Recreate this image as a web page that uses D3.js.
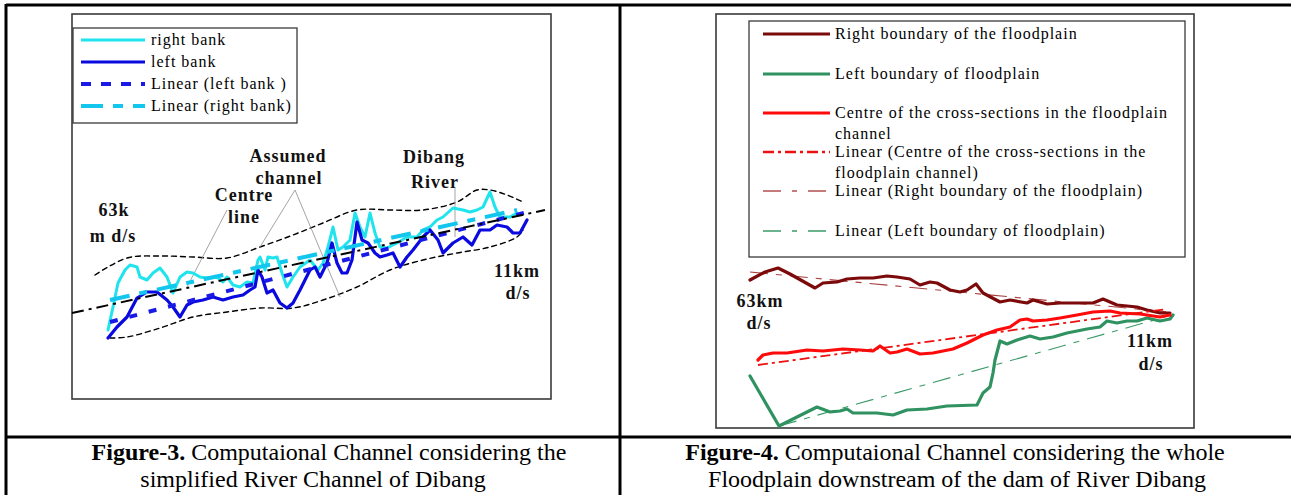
<!DOCTYPE html>
<meta charset="utf-8">
<style>
  body { margin: 0; background: #fff; }
  svg { display: block; font-family: "Liberation Serif", "Times New Roman", serif; }
  .frame { fill: none; stroke: #3a3a3a; stroke-width: 1.6; }
  .legend-box { fill: #fff; stroke: #3a3a3a; stroke-width: 1.3; }
  .legend text { font-size: 16px; letter-spacing: 1px; fill: #000; }
  .lbl { font-size: 18px; font-weight: bold; letter-spacing: 1px; text-anchor: middle; fill: #111; }
  .leader { stroke: #9a9a9a; stroke-width: 0.9; fill: none; }
  .caption { font-size: 24px; text-anchor: middle; fill: #000; }
  .grid { stroke: #000; stroke-width: 3; }
  path.series { fill: none; stroke-linejoin: round; stroke-linecap: round; }
</style>
<body>
<script src="https://cdn.jsdelivr.net/npm/d3@7"></script>
<script>
// ---------- Figure-3 data (plan units, x along valley, y across) ----------
var rightBank = [[36,69],[41,92],[46,116],[53,129],[58,134],[65,132],[68,122],[75,119],[81,126],[88,131],
  [95,122],[101,106],[108,122],[115,127],[121,126],[128,122],[135,121],[145,122],[151,117],[155,122],
  [161,114],[168,112],[175,117],[181,116],[186,139],[188,142],[193,129],[196,142],[201,141],[205,142],
  [210,126],[215,112],[221,122],[228,132],[238,139],[246,129],[251,136],[256,152],[261,172],[266,149],
  [271,152],[278,159],[283,186],[288,172],[293,162],[298,186],[303,166],[308,152],[315,151],[325,156],
  [335,162],[345,162],[351,169],[358,172],[365,179],[371,182],[381,191],[391,189],[398,187],[405,189],
  [411,192],[418,207],[423,192],[428,182],[438,182],[445,186]];
var leftBank = [[36,61],[45,72],[55,82],[65,101],[75,107],[85,107],[95,99],[101,92],[108,82],[115,94],
  [121,97],[131,99],[141,102],[151,99],[161,102],[171,104],[178,109],[183,112],[186,129],[190,122],
  [195,106],[201,109],[208,96],[215,91],[221,96],[228,109],[238,129],[243,132],[248,122],[255,136],
  [260,156],[265,136],[270,126],[275,126],[280,139],[285,177],[290,159],[296,156],[303,146],[308,142],
  [315,144],[321,146],[328,132],[335,142],[341,149],[351,162],[358,169],[366,159],[371,146],[381,156],
  [391,162],[400,154],[408,169],[418,169],[425,174],[435,172],[441,166],[448,166],[455,179]];
var linLeftBank = [[38,77],[455,187]];
var linRightBank = [[38,99],[445,189]];
var centreLine = [[0,86],[473,189]];
var upperEnvelope = [[23,124],[55,141],[88,143],[121,142],[155,141],[188,152],[221,164],[251,176],
  [285,189],[318,189],[351,189],[385,197],[405,209],[418,209],[435,204],[451,197]];
var lowerEnvelope = [[38,61],[55,62],[88,71],[121,82],[155,87],[188,91],[221,91],[251,99],[285,112],
  [318,129],[351,139],[385,146],[418,152],[445,162],[451,169]];
var legend3 = ["right bank", "left bank", "Linear (left bank )", "Linear (right bank)"];

// ---------- Figure-4 data ----------
var rightBoundary = [[34,148],[49,156],[62,160],[74,154],[99,140],[107,145],[121,146],[131,149],[144,150],
  [157,150],[171,152],[181,151],[194,149],[204,143],[214,146],[221,145],[234,138],[244,136],[251,138],
  [260,144],[267,135],[284,126],[294,128],[311,125],[317,128],[331,124],[344,125],[354,125],[377,125],
  [387,129],[401,123],[421,121],[431,118],[444,115],[454,115]];
var centreSections = [[42,68],[47,73],[57,75],[71,75],[91,78],[107,77],[127,79],[144,78],[157,77],[164,82],
  [174,75],[181,76],[191,79],[204,74],[217,75],[237,79],[251,85],[267,93],[281,98],[294,101],[304,108],
  [311,109],[317,107],[331,108],[344,110],[361,113],[377,116],[394,117],[404,115],[424,114],[444,111],[454,113]];
var leftBoundary = [[34,52],[63,2],[81,11],[101,21],[114,16],[124,17],[131,19],[137,15],[161,15],[177,13],
  [191,18],[211,19],[231,22],[261,23],[267,35],[274,41],[277,55],[279,68],[284,87],[291,84],[301,88],
  [314,92],[324,89],[337,91],[351,95],[371,99],[384,101],[391,107],[401,105],[411,107],[421,107],
  [431,110],[444,107],[454,109],[457,113]];
var linCentre = [[42,63],[451,119]];
var linRightBoundary = [[34,156],[452,116]];
var linLeftBoundary = [[63,2],[449,111]];
var legend4 = [["Right boundary of the floodplain"], ["Left boundary of floodplain"],
  ["Centre of the cross-sections in the floodplain", "channel"],
  ["Linear (Centre of the cross-sections in the", "floodplain channel)"],
  ["Linear (Right boundary of the floodplain)"], ["Linear (Left boundary of floodplain)"]];

var svg = d3.select("body").append("svg").attr("width", 1291).attr("height", 495);
svg.append("rect").attr("width", 1291).attr("height", 495).attr("fill", "#fff");

// table grid
svg.append("line").attr("class", "grid").attr("x1", 6).attr("x2", 1291).attr("y1", 5).attr("y2", 5);
svg.append("line").attr("class", "grid").attr("x1", 6).attr("x2", 1291).attr("y1", 437).attr("y2", 437);
svg.append("line").attr("class", "grid").attr("x1", 6).attr("x2", 6).attr("y1", 4).attr("y2", 495);
svg.append("line").attr("class", "grid").attr("x1", 620).attr("x2", 620).attr("y1", 4).attr("y2", 495);

// ===== Figure-3 =====
var x3 = d3.scaleLinear().domain([0, 479]).range([72, 551]);
var y3 = d3.scaleLinear().domain([0, 385]).range([399, 14]);
var g3 = svg.append("g");
g3.append("rect").attr("class", "frame").attr("x", 72).attr("y", 14).attr("width", 479).attr("height", 385);

var line3 = d3.line().x(function(d) { return x3(d[0]); }).y(function(d) { return y3(d[1]); });
var curve3 = d3.line().curve(d3.curveCatmullRom.alpha(0.5))
  .x(function(d) { return x3(d[0]); }).y(function(d) { return y3(d[1]); });

g3.append("path").datum(upperEnvelope).attr("class", "series").attr("d", curve3)
  .attr("stroke", "#000").attr("stroke-width", 1.4).attr("stroke-dasharray", "5,4");
g3.append("path").datum(lowerEnvelope).attr("class", "series").attr("d", curve3)
  .attr("stroke", "#000").attr("stroke-width", 1.4).attr("stroke-dasharray", "5,4");

// leader lines
[[227,210,187,287],[295,190,260,247],[295,190,340,297],[455,188,455,237]].forEach(function(l) {
  g3.append("line").attr("class", "leader").attr("x1", l[0]).attr("y1", l[1]).attr("x2", l[2]).attr("y2", l[3]);
});

g3.append("path").datum(rightBank).attr("class", "series").attr("d", line3)
  .attr("stroke", "#1fe4ee").attr("stroke-width", 3);
g3.append("path").datum(leftBank).attr("class", "series").attr("d", line3)
  .attr("stroke", "#0a0ae0").attr("stroke-width", 3.2);
g3.append("path").datum(linLeftBank).attr("class", "series").attr("d", line3)
  .attr("stroke", "#1a1ae6").attr("stroke-width", 4).attr("stroke-dasharray", "8,12").style("stroke-linecap", "butt");
g3.append("path").datum(linRightBank).attr("class", "series").attr("d", line3)
  .attr("stroke", "#12c6ee").attr("stroke-width", 4).attr("stroke-dasharray", "20,10,8,10").style("stroke-linecap", "butt");
g3.append("path").datum(centreLine).attr("class", "series").attr("d", line3)
  .attr("stroke", "#000").attr("stroke-width", 2).attr("stroke-dasharray", "12,5,3,5").style("stroke-linecap", "butt");

// labels
function lbl(g, x, y, t) { g.append("text").attr("class", "lbl").attr("x", x).attr("y", y).text(t); }
lbl(g3, 114, 216, "63k"); lbl(g3, 113, 242, "m d/s");
lbl(g3, 244, 201, "Centre"); lbl(g3, 244, 223, "line");
lbl(g3, 288, 162, "Assumed"); lbl(g3, 289, 184, "channel");
lbl(g3, 434, 163, "Dibang"); lbl(g3, 435, 188, "River");
lbl(g3, 517, 277, "11km"); lbl(g3, 518, 299, "d/s");

// legend
var lg3 = g3.append("g").attr("class", "legend");
lg3.append("rect").attr("class", "legend-box").attr("x", 73).attr("y", 28).attr("width", 224).attr("height", 95);
var l3Styles = [
  {c: "#1fe4ee", w: 3, d: null},
  {c: "#0a0ae0", w: 3, d: null},
  {c: "#1a1ae6", w: 4, d: "10,10"},
  {c: "#12c6ee", w: 4, d: "22,10,10,10"}];
var ly3 = d3.scalePoint().domain(legend3).range([40, 106]);
legend3.forEach(function(name, i) {
  lg3.append("line").attr("x1", 81).attr("x2", 145).attr("y1", ly3(name)).attr("y2", ly3(name))
    .attr("stroke", l3Styles[i].c).attr("stroke-width", l3Styles[i].w).attr("stroke-dasharray", l3Styles[i].d);
  lg3.append("text").attr("x", 151).attr("y", ly3(name) + 5).text(name);
});

// ===== Figure-4 =====
var x4 = d3.scaleLinear().domain([0, 478]).range([716, 1194]);
var y4 = d3.scaleLinear().domain([0, 414]).range([428, 14]);
var g4 = svg.append("g");
g4.append("rect").attr("class", "frame").attr("x", 716).attr("y", 14).attr("width", 478).attr("height", 414);
var line4 = d3.line().x(function(d) { return x4(d[0]); }).y(function(d) { return y4(d[1]); });

var s4 = [
  {data: linRightBoundary, c: "#a8413f", w: 1.1, d: "18,8,6,8"},
  {data: linLeftBoundary, c: "#3a9a68", w: 1.1, d: "18,8,6,8"},
  {data: rightBoundary, c: "#7d0a0a", w: 3.2, d: null},
  {data: leftBoundary, c: "#2f9260", w: 3.2, d: null},
  {data: centreSections, c: "#ff0a0a", w: 3.2, d: null},
  {data: linCentre, c: "#ee1010", w: 1.8, d: "10,4,3,4"}];
s4.forEach(function(s) {
  g4.append("path").datum(s.data).attr("class", "series").attr("d", line4)
    .attr("stroke", s.c).attr("stroke-width", s.w).attr("stroke-dasharray", s.d)
    .style("stroke-linecap", s.d ? "butt" : "round");
});

lbl(g4, 760, 307, "63km"); lbl(g4, 759, 329, "d/s");
lbl(g4, 1150, 347, "11km"); lbl(g4, 1151, 370, "d/s");

var lg4 = g4.append("g").attr("class", "legend");
lg4.append("rect").attr("class", "legend-box").attr("x", 749).attr("y", 21).attr("width", 436).attr("height", 236);
var l4Styles = [
  {c: "#7d0a0a", w: 3, d: null},
  {c: "#2f9260", w: 3, d: null},
  {c: "#ff0a0a", w: 3, d: null},
  {c: "#ee1010", w: 2.5, d: "11,4,3,4"},
  {c: "#b05050", w: 1.5, d: "18,11,5,11"},
  {c: "#3a9a68", w: 1.5, d: "18,11,5,11"}];
var ly4 = [34, 74, 113, 152, 191, 231];
legend4.forEach(function(lines, i) {
  lg4.append("line").attr("x1", 763).attr("x2", 830).attr("y1", ly4[i]).attr("y2", ly4[i])
    .attr("stroke", l4Styles[i].c).attr("stroke-width", l4Styles[i].w).attr("stroke-dasharray", l4Styles[i].d);
  var t = lg4.append("text").attr("x", 835).attr("y", ly4[i] + 5);
  lines.forEach(function(s, j) {
    t.append("tspan").attr("x", 835).attr("dy", j ? 21 : 0).text(s);
  });
});

// ===== captions =====
function caption(x, y, bold, rest) {
  var t = svg.append("text").attr("class", "caption").attr("x", x).attr("y", y);
  if (bold) t.append("tspan").attr("font-weight", "bold").text(bold);
  t.append("tspan").text(rest);
}
caption(329, 460, "Figure-3.", " Computaional Channel considering the");
caption(313, 487, null, "simplified River Channel of Dibang");
caption(955, 460, "Figure-4.", " Computaional Channel considering the whole");
caption(957, 487, null, "Floodplain downstream of the dam of River Dibang");
</script>
</body>
